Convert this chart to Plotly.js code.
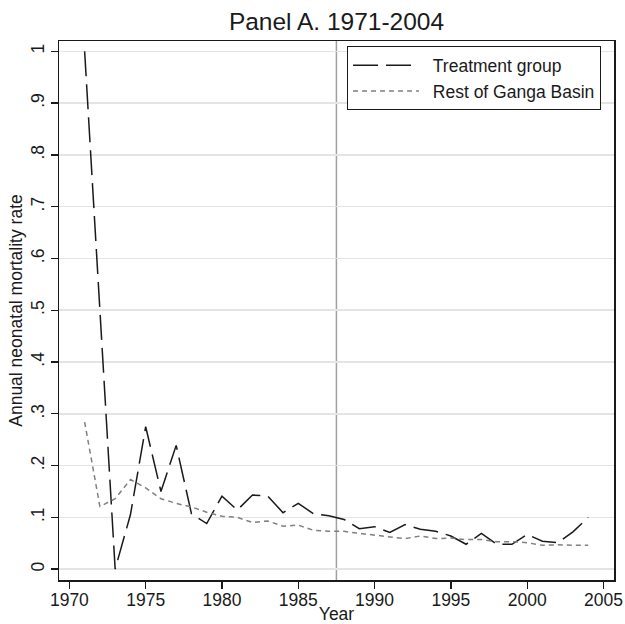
<!DOCTYPE html>
<html>
<head>
<meta charset="utf-8">
<script src="https://cdn.plot.ly/plotly-3.0.1.min.js"></script>
<style>html,body{margin:0;padding:0;background:#fff;}#chart{width:625px;height:624px;}</style>
</head>
<body>
<div id="chart"></div>
<script>
const years = [1971,1972,1973,1974,1975,1976,1977,1978,1979,1980,1981,1982,1983,1984,1985,1986,1987,1988,1989,1990,1991,1992,1993,1994,1995,1996,1997,1998,1999,2000,2001,2002,2003,2004];
const treatment = [1.0,0.5,0.0,0.105,0.275,0.150,0.239,0.107,0.088,0.141,0.114,0.143,0.141,0.109,0.127,0.107,0.103,0.096,0.078,0.082,0.071,0.086,0.077,0.073,0.064,0.048,0.069,0.048,0.048,0.067,0.054,0.051,0.072,0.100];
const restGanga = [0.284,0.121,0.136,0.173,0.157,0.136,0.127,0.120,0.110,0.102,0.100,0.090,0.093,0.083,0.085,0.075,0.073,0.073,0.069,0.066,0.062,0.059,0.064,0.059,0.060,0.057,0.057,0.053,0.053,0.051,0.046,0.047,0.046,0.046];
const seriesNames = ['Treatment group', 'Rest of Ganga Basin'];
const yTickVals = [0,0.1,0.2,0.3,0.4,0.5,0.6,0.7,0.8,0.9,1];
const yTickText = ["0",".1",".2",".3",".4",".5",".6",".7",".8",".9","1"];
const xTickVals = [1970,1975,1980,1985,1990,1995,2000,2005];
const policyYear = 1987.5;

const font = "Liberation Sans, Arial, Helvetica, sans-serif";
const fs = 17.5;
const pad = '\u2002';

const traces = [
  {x: years, y: treatment, type: 'scatter', mode: 'lines', name: pad + seriesNames[0],
   line: {color: '#1a1a1a', width: 1.5, dash: '25px,8px'}},
  {x: years, y: restGanga, type: 'scatter', mode: 'lines', name: pad + seriesNames[1],
   line: {color: '#808080', width: 1.5, dash: '5px,4px'}}
];

const layout = {
  width: 625, height: 624,
  margin: {l: 59, r: 11, t: 41, b: 44, pad: 0},
  paper_bgcolor: '#ffffff', plot_bgcolor: '#ffffff',
  font: {family: font, color: '#1a1a1a', size: fs},
  title: {text: 'Panel A. 1971-2004', font: {family: font, size: 24.5, color: '#1a1a1a'},
          x: 0.5, xref: 'paper', y: 0.965, yref: 'container', yanchor: 'middle'},
  showlegend: true,
  legend: {x: 0.519, y: 0.99, xanchor: 'left', yanchor: 'top',
           bgcolor: '#ffffff', bordercolor: '#1a1a1a', borderwidth: 1,
           font: {family: font, size: fs, color: '#1a1a1a'}, itemwidth: 66,
           tracegroupgap: 0},
  xaxis: {
    range: [1969.32, 2005.69], tickvals: xTickVals, ticktext: xTickVals.map(String),
    ticks: 'outside', ticklen: 7, tickwidth: 1.3, tickcolor: '#1a1a1a',
    ticklabelstandoff: -4,
    showline: true, linecolor: '#1a1a1a', linewidth: 1.5, mirror: true,
    showgrid: false, zeroline: false,
    tickfont: {family: font, size: fs, color: '#1a1a1a'},
    title: {text: 'Year', font: {family: font, size: fs, color: '#1a1a1a'}, standoff: 2}
  },
  yaxis: {
    range: [-0.021, 1.020], tickvals: yTickVals, ticktext: yTickText, tickangle: -90,
    ticks: 'outside', ticklen: 7, tickwidth: 1.3, tickcolor: '#1a1a1a',
    showline: true, linecolor: '#1a1a1a', linewidth: 1.5, mirror: true,
    showgrid: true, gridcolor: '#e4e4e4', gridwidth: 1.5, zeroline: false,
    tickfont: {family: font, size: fs, color: '#1a1a1a'},
    title: {text: 'Annual neonatal mortality rate', font: {family: font, size: fs, color: '#1a1a1a'}, standoff: 0}
  },
  shapes: [
    {type: 'line', xref: 'x', yref: 'paper', x0: policyYear, x1: policyYear, y0: 0, y1: 1,
     line: {color: '#a0a0a0', width: 1.5}, layer: 'below'}
  ]
};

Plotly.newPlot('chart', traces, layout, {displayModeBar: false, staticPlot: true});
</script>
</body>
</html>
